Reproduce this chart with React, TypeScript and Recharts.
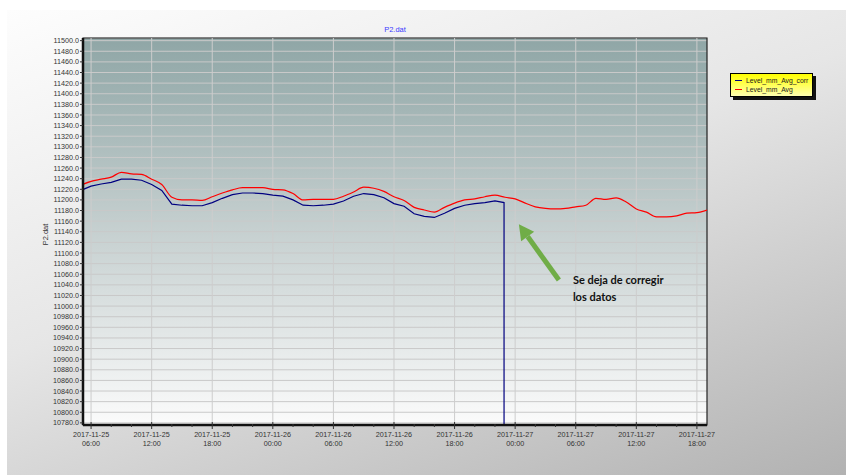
import React from 'react';
import { LineChart, Line, XAxis, YAxis, CartesianGrid, Legend, ReferenceLine, ReferenceArea } from 'recharts';

// hours counted from 2017-11-25 00:00
const hours = [
  5, 6, 7, 8, 9, 10, 11, 12, 13, 14, 15, 16, 17, 18, 19, 20, 21, 22, 23, 24, 25,
  26, 27, 28, 29, 30, 31, 32, 33, 34, 35, 36, 37, 38, 39, 40, 41, 42, 43, 44, 45,
  46, 47, 48, 49, 50, 51, 52, 53, 54, 55, 56, 57, 58, 59, 60, 61, 62, 63, 64, 65,
  66, 67,
];
const levelAvg = [
  11228, 11235, 11239, 11243, 11252, 11249, 11248, 11239, 11229, 11205, 11200,
  11200, 11199, 11206, 11213, 11219, 11223, 11223, 11223, 11220, 11219, 11212,
  11200, 11201, 11201, 11201, 11207, 11215, 11224, 11222, 11216, 11206, 11199,
  11186, 11181, 11177, 11186, 11194, 11200, 11202, 11206, 11209, 11205, 11202,
  11194, 11187, 11184, 11183, 11184, 11187, 11190, 11203, 11201, 11204, 11196,
  11183, 11177, 11168, 11168, 11170, 11175, 11176, 11181,
];
// corrected series stops at ~23:00 on the 26th and drops off the axis
const corrHours = [
  5, 6, 7, 8, 9, 10, 11, 12, 13, 14, 15, 16, 17, 18, 19, 20, 21, 22, 23, 24, 25,
  26, 27, 28, 29, 30, 31, 32, 33, 34, 35, 36, 37, 38, 39, 40, 41, 42, 43, 44, 45,
  46, 46.9, 46.9,
];
const levelCorr = [
  11218, 11226, 11230, 11233, 11239, 11239, 11237, 11229, 11218, 11192, 11190,
  11189, 11189, 11195, 11203, 11210, 11213, 11213, 11212, 11209, 11207, 11200,
  11190, 11189, 11190, 11192, 11198, 11207, 11212, 11210, 11204, 11193, 11188,
  11174, 11169, 11167, 11175, 11184, 11190, 11193, 11195, 11198, 11195, 10700,
];

const majorHours = [6, 12, 18, 24, 30, 36, 42, 48, 54, 60, 66];
const xTickDates = [
  '2017-11-25', '2017-11-25', '2017-11-25', '2017-11-26', '2017-11-26', '2017-11-26',
  '2017-11-26', '2017-11-27', '2017-11-27', '2017-11-27', '2017-11-27',
];
const xTickTimes = ['06:00', '12:00', '18:00', '00:00', '06:00', '12:00', '18:00', '00:00', '06:00', '12:00', '18:00'];
const allXTicks = [6, 8, 10, 12, 14, 16, 18, 20, 22, 24, 26, 28, 30, 32, 34, 36, 38, 40, 42, 44, 46, 48, 50, 52, 54, 56, 58, 60, 62, 64, 66];

const yTicks: number[] = [];
for (let v = 10780; v <= 11500; v += 20) yTicks.push(v);

const X_DOMAIN = [5.2, 67];
const Y_DOMAIN = [10776, 11505];

const avgData = hours.map((h, i) => ({ h, v: levelAvg[i] }));
const corrData = corrHours.map((h, i) => ({ h, v: levelCorr[i] }));

const FONT = '"Liberation Sans", Arial, sans-serif';

function TimeTick(props: any) {
  const { x, y, payload } = props;
  const i = majorHours.indexOf(payload.value);
  const major = i >= 0;
  return (
    <g>
      <line x1={x} x2={x} y1={y - (major ? 3 : 1)} y2={y + (major ? 4 : 2)} stroke="#333" strokeWidth={1} />
      {major && (
        <text x={x} y={y + 12.3} textAnchor="middle" fontSize={7.2} fill="#333" fontFamily={FONT}>
          <tspan x={x}>{xTickDates[i]}</tspan>
          <tspan x={x} dy={8.4}>{xTickTimes[i]}</tspan>
        </text>
      )}
    </g>
  );
}

function LegendBox(props: any) {
  const items = [...(props.payload || [])].reverse();
  return (
    <div
      style={{
        width: 81,
        padding: '2px 0 2px 0',
        border: '1px solid #000',
        background: 'linear-gradient(#ffff00, #ffffb0)',
        boxShadow: '3px 3px 0 #111',
        fontFamily: FONT,
        fontSize: 6.8,
        color: '#222',
        lineHeight: '9px',
        whiteSpace: 'nowrap',
        overflow: 'hidden',
      }}
    >
      {items.map((it: any) => (
        <div key={it.value} style={{ display: 'flex', alignItems: 'center' }}>
          <span style={{ display: 'inline-block', width: 7, height: 1, background: it.color, margin: '0 4px 0 4px' }} />
          <span>{it.value}</span>
        </div>
      ))}
    </div>
  );
}

function ArrowNote(props: any) {
  const { x1, y1, x2, y2 } = props;
  const dx = x2 - x1;
  const dy = y2 - y1;
  const len = Math.sqrt(dx * dx + dy * dy);
  const ux = dx / len;
  const uy = dy / len;
  const head = 15;
  const bx = x2 - ux * head;
  const by = y2 - uy * head;
  const px = -uy;
  const py = ux;
  return (
    <g>
      <line x1={x1} y1={y1} x2={bx} y2={by} stroke="#70ad47" strokeWidth={5} />
      <polygon
        points={`${x2},${y2} ${bx + px * 8},${by + py * 8} ${bx - px * 8},${by - py * 8}`}
        fill="#70ad47"
      />
      <text x={x1 + 14} y={y1 + 4} fontFamily="Lato, sans-serif" fontWeight={700} fontSize={11} fill="#111">
        <tspan x={x1 + 14}>Se deja de corregir</tspan>
        <tspan x={x1 + 14} dy={17}>los datos</tspan>
      </text>
    </g>
  );
}

export default function App() {
  return (
    <div
      style={{
        position: 'absolute',
        left: 7,
        top: 10,
        width: 839,
        height: 465,
        background: 'linear-gradient(160deg, #fdfdfd 0%, #e6e6e6 45%, #b2b2b2 100%)',
        fontFamily: FONT,
      }}
    >
      <div
        style={{
          position: 'absolute',
          left: 288,
          width: 200,
          top: 15,
          textAlign: 'center',
          fontSize: 7.5,
          color: '#3a3aff',
        }}
      >
        P2.dat
      </div>
      <LineChart width={839} height={465} data={avgData} margin={{ top: 28, right: 139, bottom: 20, left: 16 }}>
        <defs>
          <linearGradient id="plotBg" x1="0" y1="0" x2="0" y2="1">
            <stop offset="0%" stopColor="#8fa6a6" />
            <stop offset="50%" stopColor="#c6d0d0" />
            <stop offset="100%" stopColor="#fbfbfb" />
          </linearGradient>
        </defs>
        <CartesianGrid vertical={false} stroke="#c9c9c9" fill="url(#plotBg)" />
        <XAxis
          dataKey="h"
          type="number"
          domain={X_DOMAIN}
          allowDataOverflow
          ticks={allXTicks}
          interval={0}
          tick={<TimeTick />}
          tickLine={false}
          tickSize={0}
          tickMargin={0}
          height={30}
          axisLine={{ stroke: '#111', strokeWidth: 2.5 }}
        />
        <YAxis
          type="number"
          domain={Y_DOMAIN}
          allowDataOverflow
          ticks={yTicks}
          interval={0}
          width={60}
          tickSize={3}
          tickMargin={1}
          tickFormatter={(v: number) => v.toFixed(1)}
          tick={{ fontSize: 7.2, fill: '#333', fontFamily: FONT }}
          tickLine={{ stroke: '#333' }}
          axisLine={{ stroke: '#111', strokeWidth: 2.5 }}
          label={{
            value: 'P2.dat',
            content: (p: any) => {
              const vb = p.viewBox;
              const cx = vb.x + 22;
              const cy = vb.y + vb.height / 2 + 3;
              return (
                <text
                  x={cx}
                  y={cy}
                  transform={`rotate(-90 ${cx} ${cy})`}
                  textAnchor="middle"
                  dominantBaseline="central"
                  fontSize={7.5}
                  fill="#333"
                  fontFamily={FONT}
                >
                  P2.dat
                </text>
              );
            },
          }}
        />
        {majorHours.map((h) => (
          <ReferenceLine key={h} x={h} stroke="#cdcdcd" strokeWidth={1} />
        ))}
        <ReferenceArea
          x1={X_DOMAIN[0]}
          x2={X_DOMAIN[1]}
          y1={Y_DOMAIN[0]}
          y2={Y_DOMAIN[1]}
          fill="none"
          stroke="#222"
          strokeWidth={1.2}
        />
        <Legend
          layout="vertical"
          align="center"
          verticalAlign="middle"
          content={<LegendBox />}
          wrapperStyle={{ left: 723, top: 63, width: 'auto', height: 'auto' }}
        />
        <Line
          data={avgData}
          dataKey="v"
          name="Level_mm_Avg"
          stroke="#ff0000"
          strokeWidth={1.2}
          dot={false}
          type="monotone"
          isAnimationActive={false}
        />
        <Line
          data={corrData}
          dataKey="v"
          name="Level_mm_Avg_corr"
          stroke="#000080"
          strokeWidth={1.2}
          dot={false}
          type="linear"
          isAnimationActive={false}
        />
        <ReferenceLine
          segment={[
            { x: 52.33, y: 11049 },
            { x: 48.37, y: 11154 },
          ]}
          shape={<ArrowNote />}
        />
      </LineChart>
    </div>
  );
}
